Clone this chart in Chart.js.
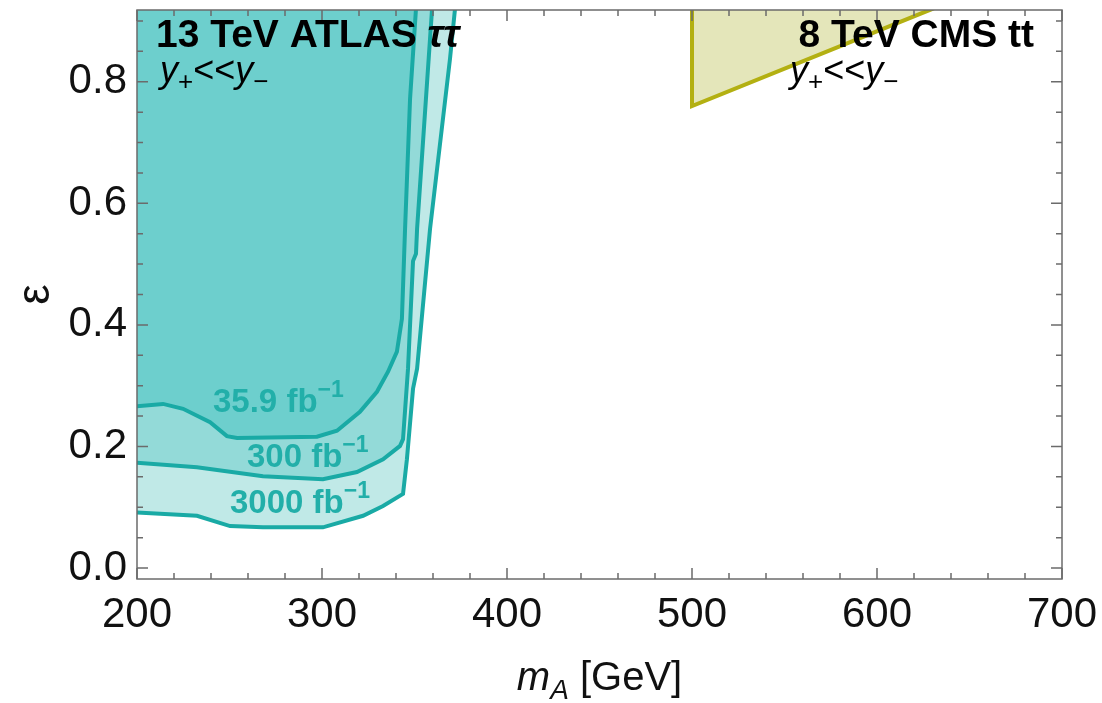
<!DOCTYPE html>
<html>
<head>
<meta charset="utf-8">
<script src="https://cdn.jsdelivr.net/npm/chart.js@4.4.0/dist/chart.umd.min.js"></script>
<style>
  body { margin: 0; background: #fff; }
  canvas { display: block; }
</style>
</head>
<body>
<canvas id="canvasGioiHan" width="1102" height="703"></canvas>
<script>
// 13 TeV ATLAS tautau: duong bien vung loai tru (m_A, epsilon)
var mA36 = [196, 214.1, 224.9, 239.5, 248.6, 254.1, 297.3, 308.1, 320.5, 329.7, 335.7, 340.5, 343.2, 344.9, 347.6, 350.8, 351.4];
var eps36 = [0.265, 0.270, 0.262, 0.240, 0.217, 0.214, 0.216, 0.226, 0.257, 0.290, 0.323, 0.356, 0.410, 0.558, 0.772, 0.920, 0.945];

var mA300 = [196, 232.4, 268.1, 300.5, 318.9, 333.0, 342.2, 343.8, 346.5, 349.2, 350.8, 351.4, 359.5, 360.5];
var eps300 = [0.174, 0.166, 0.151, 0.146, 0.158, 0.179, 0.201, 0.212, 0.328, 0.505, 0.517, 0.558, 0.920, 0.945];

var mA3000 = [196, 232.4, 250.3, 268.1, 300.5, 322.2, 333.0, 343.8, 345.9, 349.2, 351.4, 358.4, 369.2, 371.9, 373];
var eps3000 = [0.092, 0.086, 0.069, 0.067, 0.067, 0.086, 0.102, 0.122, 0.179, 0.295, 0.328, 0.558, 0.838, 0.920, 0.945];

// 8 TeV CMS tt
var cmsMA = [500, 500, 630, 645];
var cmsEps = [0.95, 0.76, 0.92, 0.94];

var xTicks = [200, 300, 400, 500, 600, 700];
var yTicks = [0.0, 0.2, 0.4, 0.6, 0.8];

var FONT = '"Liberation Sans", Arial, sans-serif';
var TEAL = '#19aaa5';

function ToPoints(xs, ys) {
    var pts = [];
    for (var i = 0; i < xs.length; i++) pts.push({ x: xs[i], y: ys[i] });
    return pts;
}

function VungLoaiTru(xs, ys, fill, line) {
    return {
        data: ToPoints(xs, ys),
        showLine: true,
        fill: 'end',
        backgroundColor: fill,
        borderColor: line,
        borderWidth: 4,
        pointRadius: 0,
        tension: 0,
        clip: 0
    };
}

// ve chuoi chu co chi so tren/duoi
function VeChu(ctx, x, y, parts, measureOnly) {
    var cx = x;
    for (var i = 0; i < parts.length; i++) {
        ctx.font = parts[i][1] + ' ' + FONT;
        if (!measureOnly) ctx.fillText(parts[i][0], cx, y + (parts[i][2] || 0));
        cx += ctx.measureText(parts[i][0]).width;
    }
    return cx - x;
}

function BoPadding(s) {
    s.paddingTop = 0; s.paddingBottom = 0; s.paddingLeft = 0; s.paddingRight = 0;
}

var yPlusMinus = [['y', 'italic 36px'], ['+', '26px', 8], ['<<', '36px'], ['y', 'italic 36px'], ['\u2212', '26px', 8]];

var trangTri = {
    id: 'trangTri',
    afterDatasetsDraw: function (chart) {
        var ctx = chart.ctx;
        var a = chart.chartArea;
        var xs = chart.scales.x, ys = chart.scales.y;
        ctx.save();

        // khung va vach chia huong vao trong
        ctx.strokeStyle = '#6b6b6b';
        ctx.lineWidth = 1.5;
        ctx.strokeRect(a.left, a.top, a.right - a.left, a.bottom - a.top);
        ctx.beginPath();
        for (var v = 200; v <= 700; v += 20) {
            var px = xs.getPixelForValue(v);
            var len = (v % 100 === 0) ? 11 : 6;
            ctx.moveTo(px, a.bottom); ctx.lineTo(px, a.bottom - len);
            ctx.moveTo(px, a.top); ctx.lineTo(px, a.top + len);
        }
        for (var k = 0; k <= 18; k++) {
            var py = ys.getPixelForValue(k * 0.05);
            var l2 = (k % 4 === 0) ? 11 : 6;
            ctx.moveTo(a.left, py); ctx.lineTo(a.left + l2, py);
            ctx.moveTo(a.right, py); ctx.lineTo(a.right - l2, py);
        }
        ctx.stroke();

        // chu thich
        ctx.fillStyle = '#000';
        ctx.textBaseline = 'alphabetic';
        VeChu(ctx, 156, 47, [['13 TeV ATLAS ', 'bold 39px'], ['\u03c4\u03c4', 'bold italic 39px']]);
        VeChu(ctx, 160, 82, yPlusMinus);
        var cmsText = [['8 TeV CMS tt', 'bold 39px']];
        var w = VeChu(ctx, 0, 0, cmsText, true);
        VeChu(ctx, 1034 - w, 47, cmsText);
        VeChu(ctx, 790, 82, yPlusMinus);

        ctx.fillStyle = '#22afa9';
        VeChu(ctx, 213, 412, [['35.9 fb', 'bold 33px'], ['\u22121', 'bold 23px', -15]]);
        VeChu(ctx, 247, 467, [['300 fb', 'bold 33px'], ['\u22121', 'bold 23px', -15]]);
        VeChu(ctx, 230, 513, [['3000 fb', 'bold 33px'], ['\u22121', 'bold 23px', -15]]);

        // ten truc x
        ctx.fillStyle = '#111';
        var tenX = [['m', 'italic 40px'], ['A', 'italic 28px', 9], [' [GeV]', '40px']];
        var wx = VeChu(ctx, 0, 0, tenX, true);
        VeChu(ctx, (a.left + a.right) / 2 - wx / 2, 690, tenX);
        ctx.restore();
    }
};

function VeDoThi() {
    new Chart(document.getElementById('canvasGioiHan'), {
        type: 'scatter',
        data: {
            datasets: [
                VungLoaiTru(mA36, eps36, '#6dcfcd', TEAL),
                VungLoaiTru(mA300, eps300, '#93dad8', TEAL),
                VungLoaiTru(mA3000, eps3000, '#c0e9e7', TEAL),
                VungLoaiTru(cmsMA, cmsEps, '#e4e6ba', '#b3b012')
            ]
        },
        options: {
            responsive: false,
            animation: false,
            layout: { padding: { left: 0, right: 40, top: 10, bottom: 0 } },
            plugins: { legend: { display: false }, tooltip: { enabled: false } },
            scales: {
                x: {
                    type: 'linear', min: 200, max: 700,
                    afterBuildTicks: function (s) { s.ticks = xTicks.map(function (v) { return { value: v }; }); },
                    afterFit: function (s) { s.height = 124; BoPadding(s); },
                    grid: { display: false, drawTicks: false },
                    border: { display: false },
                    ticks: { autoSkip: false, maxRotation: 0, padding: 11, color: '#111', font: { family: FONT, size: 42 } }
                },
                y: {
                    type: 'linear', min: -0.018, max: 0.918,
                    afterBuildTicks: function (s) { s.ticks = yTicks.map(function (v) { return { value: v }; }); },
                    afterFit: function (s) { s.width = 137; BoPadding(s); },
                    grid: { display: false, drawTicks: false },
                    border: { display: false },
                    ticks: {
                        autoSkip: false, padding: 10, color: '#111', font: { family: FONT, size: 42 },
                        callback: function (v) { return v.toFixed(1); }
                    },
                    title: { display: true, text: '\u03b5', color: '#111', padding: { top: 9, bottom: 0 }, font: { family: FONT, size: 46 } }
                }
            }
        },
        plugins: [trangTri]
    });
}

VeDoThi();
</script>
</body>
</html>
